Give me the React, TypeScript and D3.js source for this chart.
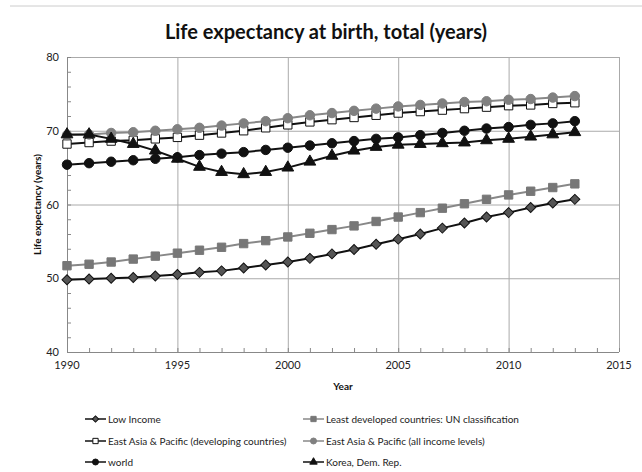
import { useEffect, useRef } from 'react'
import * as d3 from 'd3'

const years = d3.range(1990, 2014)

const lowIncome = [49.8, 49.9, 50.0, 50.1, 50.3, 50.5, 50.8, 51.0, 51.4, 51.8, 52.2, 52.7, 53.3, 53.9, 54.6, 55.3, 56.0, 56.8, 57.5, 58.3, 58.9, 59.6, 60.2, 60.7]
const leastDeveloped = [51.7, 51.9, 52.2, 52.6, 53.0, 53.4, 53.8, 54.2, 54.7, 55.1, 55.6, 56.1, 56.6, 57.1, 57.7, 58.3, 58.9, 59.5, 60.1, 60.7, 61.3, 61.8, 62.3, 62.8]
const eapDeveloping = [68.2, 68.4, 68.6, 68.7, 68.9, 69.1, 69.4, 69.7, 70.0, 70.4, 70.8, 71.2, 71.5, 71.8, 72.1, 72.4, 72.6, 72.8, 73.0, 73.2, 73.4, 73.5, 73.7, 73.8]
const eapAll = [69.4, 69.5, 69.7, 69.8, 70.0, 70.2, 70.4, 70.7, 71.0, 71.3, 71.7, 72.1, 72.4, 72.7, 73.0, 73.3, 73.5, 73.7, 73.9, 74.0, 74.2, 74.3, 74.5, 74.7]
const world = [65.4, 65.6, 65.8, 66.0, 66.2, 66.4, 66.7, 66.9, 67.1, 67.4, 67.7, 68.0, 68.3, 68.6, 68.9, 69.1, 69.4, 69.7, 70.0, 70.3, 70.5, 70.8, 71.0, 71.3]
const korea = [69.5, 69.5, 68.9, 68.2, 67.3, 66.2, 65.1, 64.4, 64.1, 64.4, 65.0, 65.8, 66.6, 67.3, 67.8, 68.1, 68.2, 68.3, 68.4, 68.7, 68.9, 69.2, 69.5, 69.8]

const xTicks = [1990, 1995, 2000, 2005, 2010, 2015]
const yTicks = [40, 50, 60, 70, 80]

type Marker = 'diamond' | 'square' | 'circle' | 'triangle'

const series: { name: string; values: number[]; marker: Marker; line: string; fill: string; stroke: string }[] = [
  { name: 'Low Income', values: lowIncome, marker: 'diamond', line: '#111', fill: '#555', stroke: '#111' },
  { name: 'Least developed countries: UN classification', values: leastDeveloped, marker: 'square', line: '#888', fill: '#777', stroke: '#777' },
  { name: 'East Asia & Pacific (developing countries)', values: eapDeveloping, marker: 'square', line: '#111', fill: '#fff', stroke: '#111' },
  { name: 'East Asia & Pacific (all income levels)', values: eapAll, marker: 'circle', line: '#888', fill: '#808080', stroke: '#808080' },
  { name: 'world', values: world, marker: 'circle', line: '#111', fill: '#111', stroke: '#111' },
  { name: 'Korea, Dem. Rep.', values: korea, marker: 'triangle', line: '#111', fill: '#111', stroke: '#111' },
]

// diamonds are squares turned by 45 degrees
const symbolFor = (m: Marker, k = 1) => {
  if (m === 'diamond') return d3.symbol(d3.symbolSquare, 50 * k)
  if (m === 'square') return d3.symbol(d3.symbolSquare, 70 * k)
  if (m === 'triangle') return d3.symbol(d3.symbolTriangle, 60 * k)
  return d3.symbol(d3.symbolCircle, 70 * k)
}
const rot = (m: Marker) => (m === 'diamond' ? ' rotate(45)' : '')

export default function App() {
  const svgRef = useRef<SVGSVGElement>(null)

  useEffect(() => {
    document.body.style.margin = '0'
    if (!svgRef.current) return
    const svg = d3.select(svgRef.current)
    svg.selectAll('*').remove()

    const font = 'Lato, "Open Sans", sans-serif'
    const x = d3.scaleLinear().domain([1990, 2015]).range([67, 619])
    const y = d3.scaleLinear().domain([40, 80]).range([352, 57])

    // frame line at top
    svg.append('line').attr('x1', 10).attr('x2', 642).attr('y1', 6).attr('y2', 6)
      .style('stroke', '#ccc').style('stroke-width', 1)

    svg.append('text')
      .attr('x', 326).attr('y', 39)
      .attr('text-anchor', 'middle')
      .style('font-family', font).style('font-weight', 700).style('font-size', '20px')
      .style('fill', '#111')
      .text('Life expectancy at birth, total (years)')

    const grid = svg.append('g')
    grid.selectAll('.hg').data(yTicks.slice(1)).enter().append('line')
      .attr('x1', x(1990)).attr('x2', x(2015))
      .attr('y1', (d) => y(d) + 0.5).attr('y2', (d) => y(d) + 0.5)
      .style('stroke', '#aaa').style('stroke-width', 1)
    grid.selectAll('.vg').data(xTicks.slice(1)).enter().append('line')
      .attr('x1', (d) => x(d) + 0.5).attr('x2', (d) => x(d) + 0.5)
      .attr('y1', y(80)).attr('y2', y(40))
      .style('stroke', '#aaa').style('stroke-width', 1)

    // axes
    svg.append('line').attr('x1', x(1990) + 0.5).attr('x2', x(1990) + 0.5).attr('y1', y(80)).attr('y2', y(40))
      .style('stroke', '#888')
    svg.append('line').attr('x1', x(1990)).attr('x2', x(2015)).attr('y1', y(40) + 0.5).attr('y2', y(40) + 0.5)
      .style('stroke', '#888')

    // minor ticks
    svg.selectAll('.xm').data(d3.range(1990, 2016)).enter().append('line')
      .attr('x1', (d) => x(d) + 0.5).attr('x2', (d) => x(d) + 0.5)
      .attr('y1', y(40)).attr('y2', y(40) - 4)
      .style('stroke', '#888')
    svg.selectAll('.ym').data(d3.range(40, 81, 2)).enter().append('line')
      .attr('x1', x(1990)).attr('x2', x(1990) + 4)
      .attr('y1', (d) => y(d) + 0.5).attr('y2', (d) => y(d) + 0.5)
      .style('stroke', '#888')

    svg.selectAll('.yl').data(yTicks).enter().append('text')
      .attr('x', x(1990) - 8).attr('y', (d) => y(d) + 4)
      .attr('text-anchor', 'end')
      .style('font-family', font).style('font-size', '11px').style('fill', '#222')
      .text((d) => d)
    svg.selectAll('.xl').data(xTicks).enter().append('text')
      .attr('x', (d) => x(d)).attr('y', y(40) + 17)
      .attr('text-anchor', 'middle')
      .style('font-family', font).style('font-size', '11px').style('fill', '#222')
      .text((d) => d)

    svg.append('text')
      .attr('x', 343).attr('y', 390)
      .attr('text-anchor', 'middle')
      .style('font-family', font).style('font-weight', 700).style('font-size', '10px').style('fill', '#111')
      .text('Year')
    svg.append('text')
      .attr('transform', `translate(41,${(y(40) + y(80)) / 2}) rotate(-90)`)
      .attr('text-anchor', 'middle')
      .style('font-family', font).style('font-weight', 700).style('font-size', '10px').style('fill', '#111')
      .text('Life expectancy (years)')

    const line = d3.line<number>().x((d, i) => x(years[i])).y((d) => y(d))

    series.forEach((s) => {
      const g = svg.append('g')
      g.append('path').datum(s.values).attr('d', line)
        .style('fill', 'none').style('stroke', s.line).style('stroke-width', 2)
      g.selectAll('path.m').data(s.values).enter().append('path')
        .attr('class', 'm')
        .attr('d', symbolFor(s.marker))
        .attr('transform', (d, i) => `translate(${x(years[i])},${y(d)})${rot(s.marker)}`)
        .style('fill', s.fill).style('stroke', s.stroke).style('stroke-width', 1)
    })

    // legend
    const legendPos = [
      [85, 419], [303, 419],
      [85, 441], [303, 441],
      [85, 462], [303, 462],
    ]
    series.forEach((s, i) => {
      const [lx, ly] = legendPos[i]
      const g = svg.append('g').attr('transform', `translate(${lx},${ly})`)
      g.append('line').attr('x1', 0).attr('x2', 21).attr('y1', 0).attr('y2', 0)
        .style('stroke', s.line).style('stroke-width', 1.5)
      g.append('path').attr('d', symbolFor(s.marker, 0.4)).attr('transform', `translate(10.5,0)${rot(s.marker)}`)
        .style('fill', s.fill).style('stroke', s.stroke)
      g.append('text').attr('x', 23).attr('y', 3.5)
        .style('font-family', font).style('font-size', '10px').style('fill', '#222')
        .text(s.name)
    })
  }, [])

  return <svg ref={svgRef} width={642} height={472} style={{ display: 'block', background: '#fff' }} />
}
